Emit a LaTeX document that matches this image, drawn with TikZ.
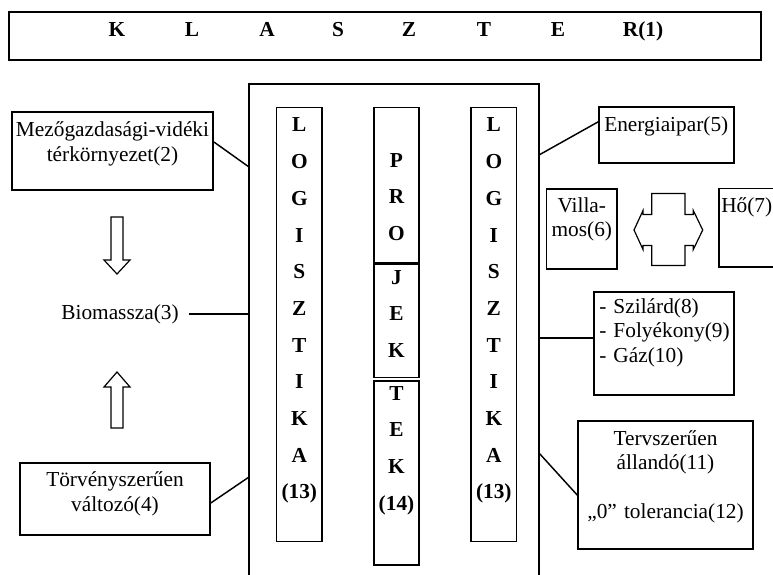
\documentclass[tikz,border=0pt]{standalone}
\usepackage{fontspec}
\setmainfont{Liberation Serif}
\usetikzlibrary{fit,calc}
\begin{document}
\begin{tikzpicture}[x=0.75pt,y=-0.75pt,
  box/.style={draw, line width=1.1pt, inner sep=0pt},
  txt/.style={inner sep=0pt, font=\fontsize{16}{18.4}\selectfont},
  ttl/.style={inner sep=0pt, anchor=base, font=\bfseries\fontsize{16}{18.4}\selectfont},
  col/.style={inner sep=0pt, font=\bfseries\fontsize{16}{27.5}\selectfont, align=center, text width=30pt, anchor=base},
  link/.style={line width=1.1pt},
  blk/.style={draw, line width=0.9pt, fill=white, line join=miter}
]
\clip (0,0) rectangle (773,574);
\fill[white] (0,0) rectangle (773,574);

% title
\node[box, fit={(9,12)(761,60)}] (title) {};
\node[ttl] (tK) at (117,37) {K};
\node[ttl] (tL1) at (192,37) {L};
\node[ttl] (tA) at (267,37) {A};
\node[ttl] (tS) at (338,37) {S};
\node[ttl] (tZ) at (409,37) {Z};
\node[ttl] (tT) at (484,37) {T};
\node[ttl] (tE) at (558,37) {E};
\node[ttl] (tR) at (643,37) {R(1)};

% big central box (open at the bottom)
\node[box, fit={(249,84)(539,620)}] (big) {};

% columns
\node[box, fit={(276.7,107.7)(322,541.7)}] (colL) {};
\node[col] (txL) at (299.3,132) {L\\O\\G\\I\\S\\Z\\T\\I\\K\\A\\(13)};
\node[box, fit={(471,107.7)(516.7,541.7)}] (colR) {};
\node[col] (txR) at (493.8,132) {L\\O\\G\\I\\S\\Z\\T\\I\\K\\A\\(13)};

\node[box, fit={(374,107.7)(419,262.7)}] (pro1) {};
\node[box, fit={(374,262.7)(419,377.6)}] (pro2) {};
\node[box, fit={(374,381)(419,565)}] (pro3) {};
\draw[line width=2pt] (pro1.south west) -- (pro1.south east);
\node[col] (txP1) at (396.5,167) {P\\R\\O};
\node[col] (txP2) at (396.5,284) {J\\E\\K};
\node[col] (txP3) at (396.5,400) {T\\E\\K\\(14)};

% left side
\node[box, fit={(12,112)(213,190)}] (b2) {};
\node[txt, align=center, text width=150pt, anchor=base] (t2) at (112.5,137) {Mezőgazdasági-vidéki\\térkörnyezet(2)};
\node[txt, anchor=base] (t3) at (120,319) {Biomassza(3)};
\node[box, fit={(20,463)(210,535)}] (b4) {};
\node[txt, align=center, text width=140pt, anchor=base] (t4) at (115,486.7) {Törvényszerűen\\változó(4)};

\draw[blk] (111,217) -- (123,217) -- (123,260) -- (130,260) -- (117,274) -- (104,260) -- (111,260) -- cycle;
\draw[blk] (111,428) -- (123,428) -- (123,387) -- (130,387) -- (117,372) -- (104,387) -- (111,387) -- cycle;

\coordinate (j2) at (249,167);
\coordinate (j4) at (249,477);
\draw[link] ($(b2.north east)!0.385!(b2.south east)$) -- (j2);
\draw[link] ([xshift=7.5pt]t3.east) -- (t3.east -| big.west);
\draw[link] ($(b4.north east)!0.555!(b4.south east)$) -- (j4);

% right side
\node[box, fit={(599,107)(734,163)}] (b5) {};
\node[txt, anchor=base west] (t5) at (604,131.7) {Energiaipar(5)};
\node[box, fit={(546.7,189)(617,269)}] (b6) {};
\node[txt, align=center, text width=50pt, anchor=base] (t6) at (581.8,212) {Villa-\\mos(6)};
\node[box, fit={(719,188.7)(810,267)}] (b7) {};
\node[txt, anchor=base west] (t7) at (721,212) {Hő(7)};

\draw[blk] (651.7,193.5) -- (685,193.5) -- (685,214.5) -- (693.3,214.5) -- (693.3,210.5) -- (702.7,230) -- (693.3,249.5) -- (693.3,245.5) -- (685,245.5) -- (685,265.5) -- (651.7,265.5) -- (651.7,245.5) -- (643,245.5) -- (643,249.5) -- (634,230) -- (643,210.5) -- (643,214.5) -- (651.7,214.5) -- cycle;

\node[box, fit={(594,292)(734,395)}] (b8) {};
\node[txt, align=left, text width=100pt, anchor=base west] (t8) at (599,313) {- Szilárd(8)\\- Folyékony(9)\\- Gáz(10)};
\node[box, fit={(578,421)(753,549)}] (b11) {};
\node[txt, align=center, text width=130pt, anchor=base] (t11) at (665.5,445) {Tervszerűen\\állandó(11)\\[18.4pt]„0” tolerancia(12)};

\coordinate (j5) at (539,155);
\coordinate (j8) at (539,338);
\coordinate (j11) at (539,453);
\draw[link] (j5) -- ($(b5.north west)!0.27!(b5.south west)$);
\draw[link] (j8) -- (j8 -| b8.west);
\draw[link] (j11) -- ($(b11.north west)!0.578!(b11.south west)$);
\end{tikzpicture}
\end{document}
